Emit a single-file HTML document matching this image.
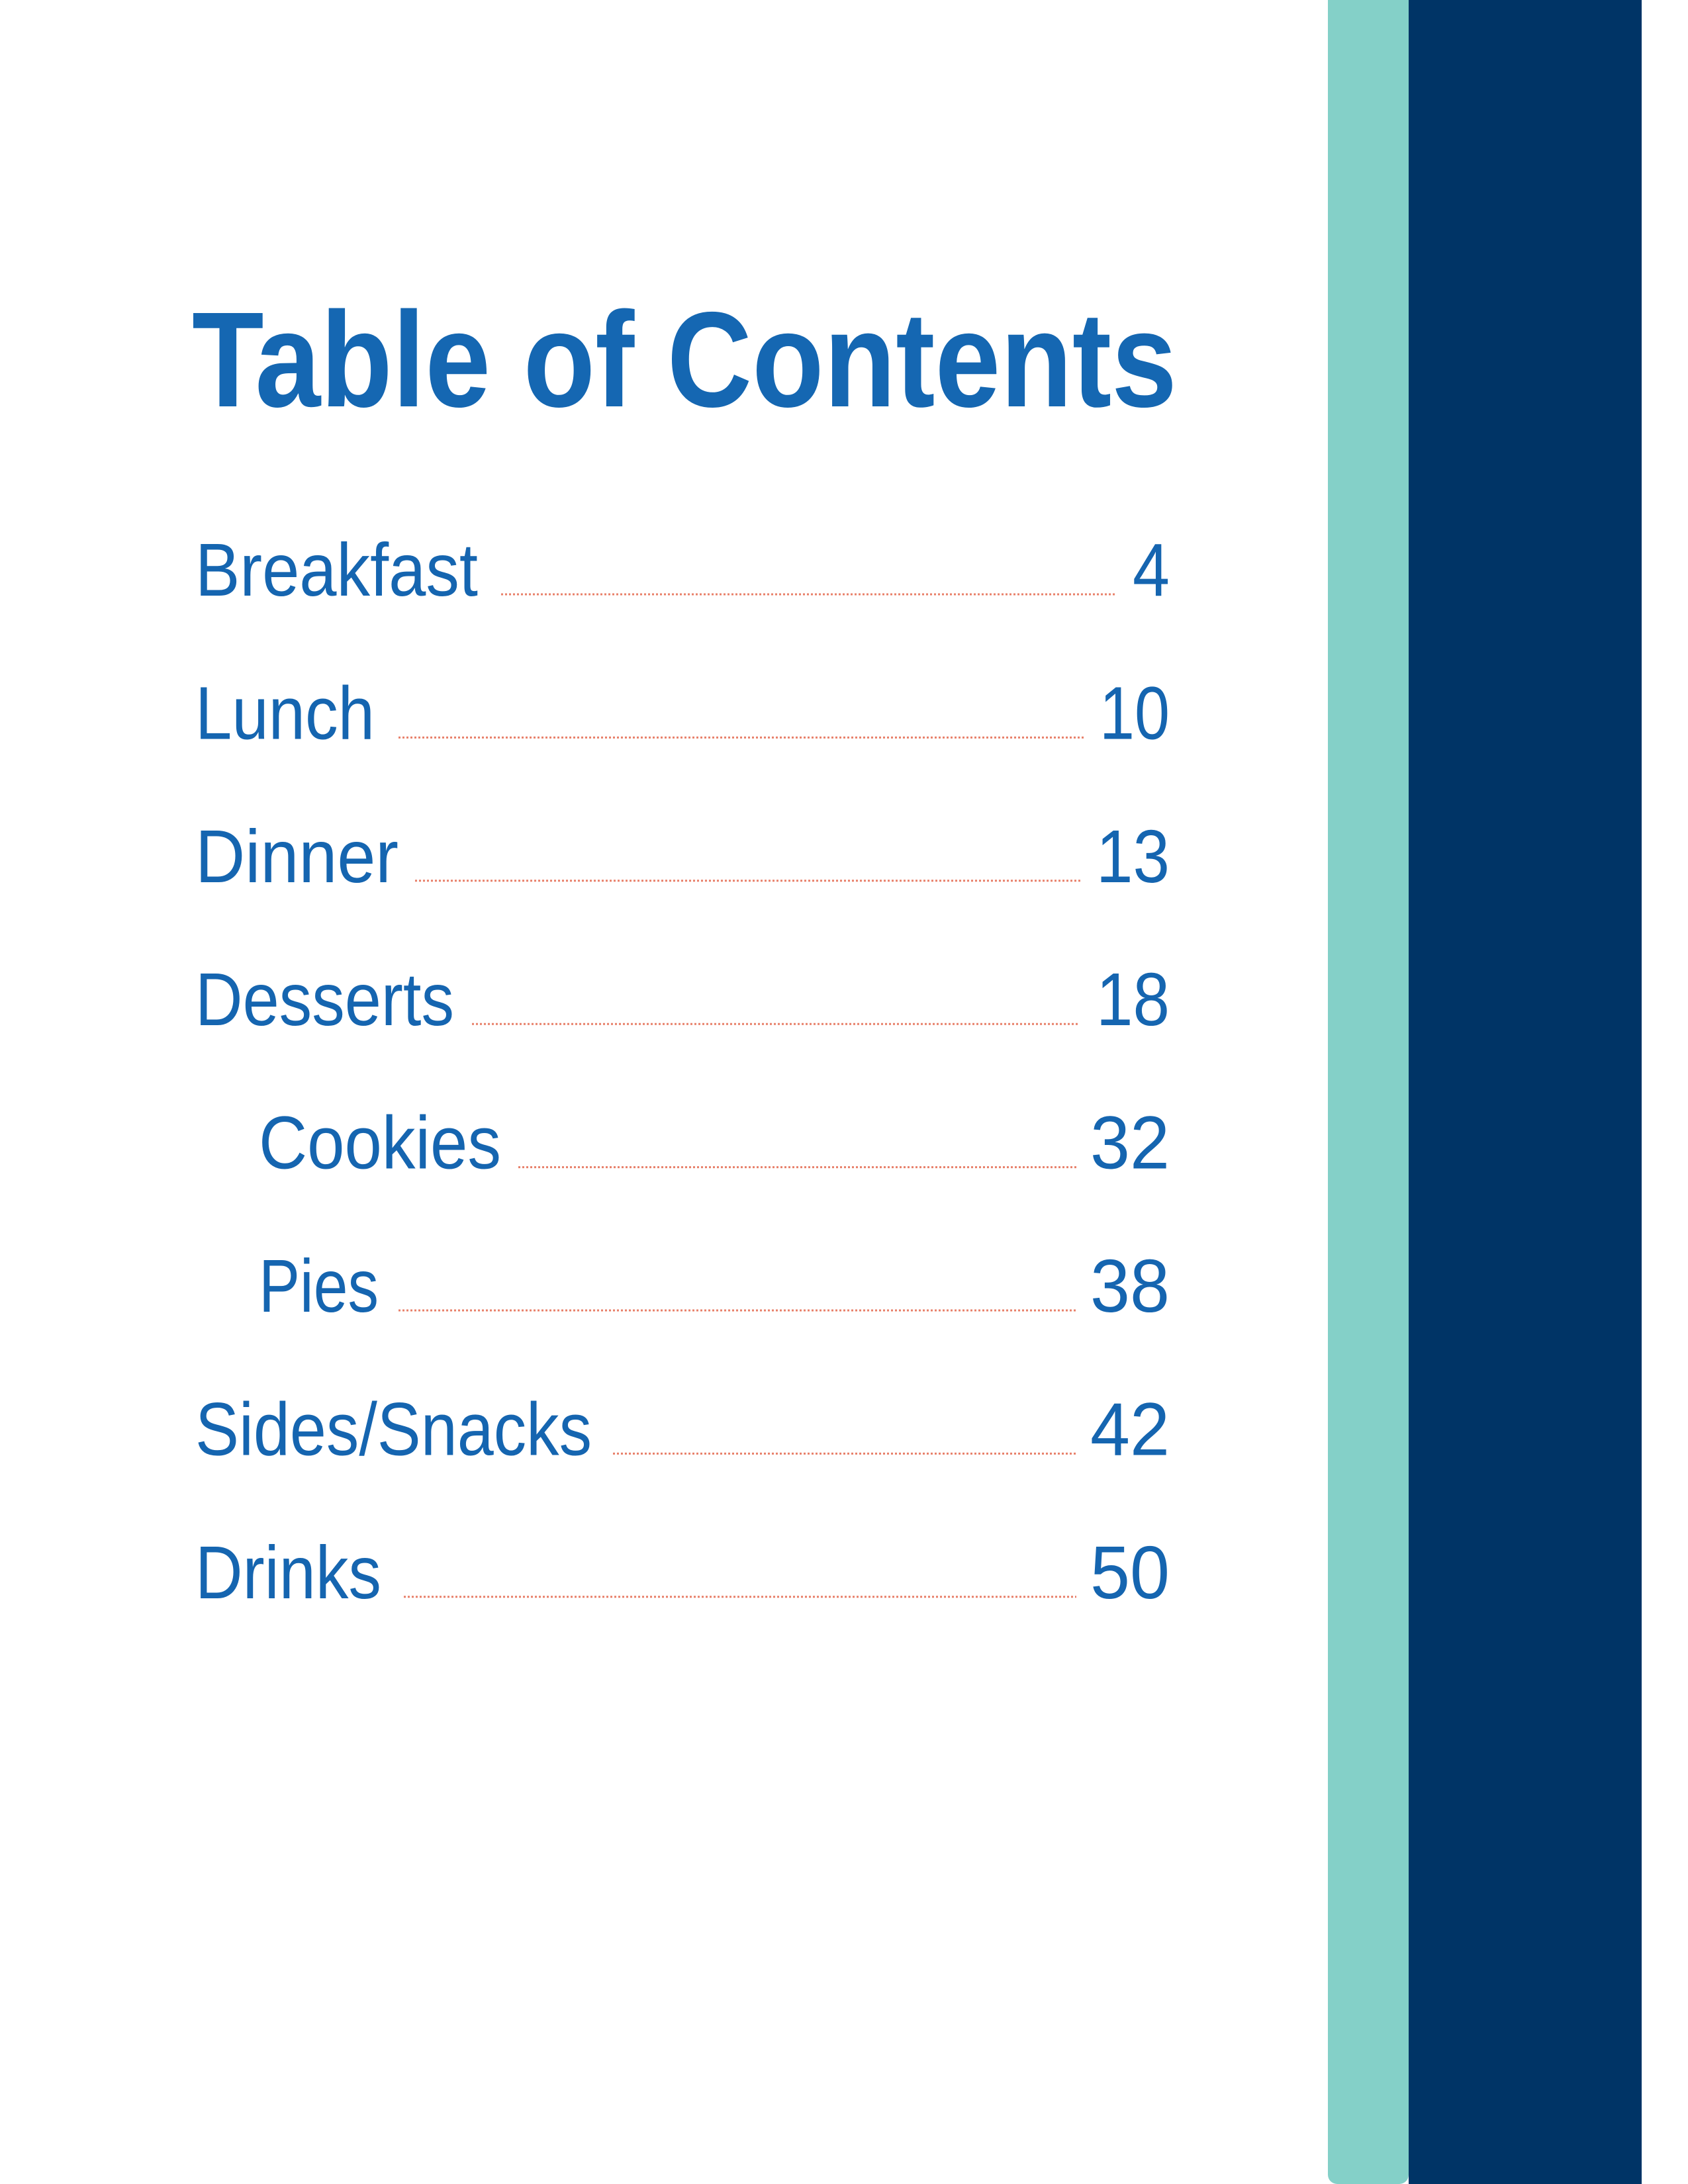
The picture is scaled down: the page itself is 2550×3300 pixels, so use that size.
<!DOCTYPE html>
<html><head><meta charset="utf-8"><style>
html,body{margin:0;padding:0;background:#fff;}
body{width:2550px;height:3300px;position:relative;overflow:hidden;}
.bar{position:absolute;top:0;height:3300px;}
svg{position:absolute;left:0;top:0;}
</style></head><body>
<div class="bar" style="left:2006px;width:122px;background:#84D0C8;border-radius:0 0 14px 14px;"></div>
<div class="bar" style="left:2128px;width:352px;background:#003466;"></div>
<svg width="2550" height="3300" font-family="'Liberation Sans', sans-serif">
<text x="290" y="614" font-size="205" font-weight="bold" fill="#1567B2" textLength="1488" lengthAdjust="spacingAndGlyphs">Table of Contents</text>
<g id="entries" fill="#1565B0" font-size="113"></g>
</svg>
<script>
const labels=["Breakfast","Lunch","Dinner","Desserts","Cookies","Pies","Sides/Snacks","Drinks"];
const pages=["4","10","13","18","32","38","42","50"];
const indent=[0,0,0,0,1,1,0,0];
const textW=[427,271,307,391,366,181,599,281];
const numW=[56,106,111,111,120,120,120,120];
const lead=[[757,1685],[602,1637],[627,1635],[713,1631],[783,1628],[602,1628],[926,1628],[610,1626]];
const g=document.getElementById('entries');
const NS='http://www.w3.org/2000/svg';
labels.forEach((l,i)=>{
  const y=900+i*216.4;
  const x=indent[i]?391:295;
  const t=document.createElementNS(NS,'text');
  
  
  t.setAttribute('x',x);t.setAttribute('y',y);
  t.setAttribute('textLength',textW[i]);t.setAttribute('lengthAdjust','spacingAndGlyphs');
  t.textContent=l;g.appendChild(t);
  const n=document.createElementNS(NS,'text');
  
  
  n.setAttribute('x',1767-numW[i]);n.setAttribute('y',y);
  n.setAttribute('textLength',numW[i]);n.setAttribute('lengthAdjust','spacingAndGlyphs');
  n.textContent=pages[i];g.appendChild(n);
  const ln=document.createElementNS(NS,'line');
  
  
  ln.setAttribute('x1',lead[i][0]);ln.setAttribute('x2',lead[i][1]);
  ln.setAttribute('y1',y-2);ln.setAttribute('y2',y-2);
  ln.setAttribute('stroke','#E8806A');ln.setAttribute('stroke-width','3');
  ln.setAttribute('stroke-dasharray','3 3');
  g.appendChild(ln);
});
</script>
</body></html>
